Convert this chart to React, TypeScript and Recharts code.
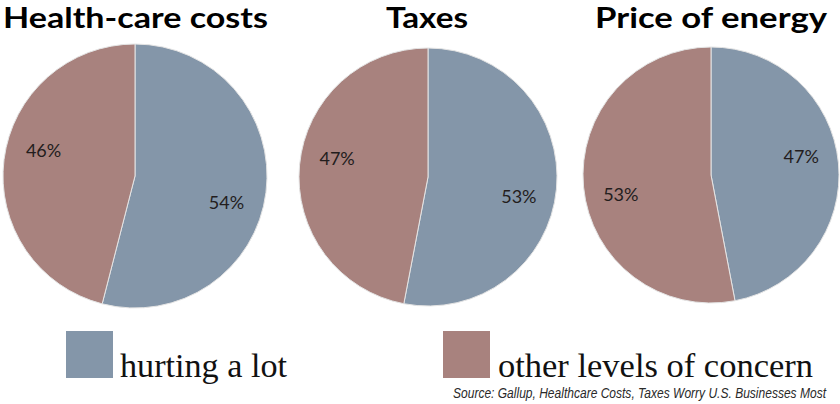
import { Pie, PieChart, Cell } from "recharts";

const categories = ["hurting a lot", "other levels of concern"];
const titles = ["Health-care costs", "Taxes", "Price of energy"];
const healthCare = [54, 46];
const taxes = [53, 47];
const energy = [47, 53];
const sourceNote = "Source: Gallup, Healthcare Costs, Taxes Worry U.S. Businesses Most";

const COLORS = ["#8496a9", "#a8827e"];
const RAD = Math.PI / 180;

const toRows = (vals: number[]) => vals.map((v, i) => ({ name: categories[i], value: v }));

// pie geometry per panel
const panels = [
  { title: titles[0], rows: toRows(healthCare), cx: 135, cy: 176, r: 132, tx: 3, tw: 265 },
  { title: titles[1], rows: toRows(taxes), cx: 428, cy: 177, r: 129, tx: 386, tw: 82 },
  { title: titles[2], rows: toRows(energy), cx: 711, cy: 175, r: 128, tx: 595, tw: 232 },
];

// excel-ish label placement: push labels further away from the horizontal axis
function pctLabel(p: any) {
  const r = p.outerRadius * 0.72;
  let a = p.midAngle;
  const side = Math.cos(a * RAD) >= 0 ? 0 : 180;
  let dev = a - side;
  while (dev > 180) dev -= 360;
  while (dev < -180) dev += 360;
  a = side + dev * 2.2;
  const x = p.cx + r * Math.cos(-a * RAD);
  const y = p.cy + r * Math.sin(-a * RAD);
  return (
    <text
      x={x}
      y={y}
      textAnchor="middle"
      dominantBaseline="central"
      fill="#231d1d"
      fontFamily="Lato, sans-serif"
      fontSize={18}
    >
      {`${p.value}%`}
    </text>
  );
}

const SRC_SCALE = 0.8;

export default function App() {
  return (
    <div style={{ position: "absolute", left: 0, top: 0, width: 840, height: 404, background: "#fff" }}>
      <PieChart width={840} height={404} margin={{ top: 0, right: 0, bottom: 0, left: 0 }}>
        {panels.map((p) => (
          <Pie
            key={p.title}
            data={p.rows}
            dataKey="value"
            nameKey="name"
            cx={p.cx}
            cy={p.cy}
            outerRadius={p.r}
            startAngle={90}
            endAngle={-270}
            stroke="#e4e4e4"
            strokeWidth={1}
            label={pctLabel}
            labelLine={false}
            isAnimationActive={false}
          >
            {p.rows.map((_, i) => (
              <Cell key={i} fill={COLORS[i]} />
            ))}
          </Pie>
        ))}
      </PieChart>
      <svg width={840} height={404} style={{ position: "absolute", left: 0, top: 0, pointerEvents: "none" }}>
        {panels.map((p) => (
          <text
            key={p.title}
            x={p.tx}
            y={28}
            textLength={p.tw}
            lengthAdjust="spacingAndGlyphs"
            fontFamily="Lato, sans-serif"
            fontWeight={700}
            fontSize={28}
            fill="#000"
          >
            {p.title}
          </text>
        ))}
        <rect x={66} y={331} width={47} height={47} fill={COLORS[0]} />
        <text x={120} y={377} textLength={167} lengthAdjust="spacingAndGlyphs" fontFamily="'Liberation Serif', serif" fontSize={33} fill="#111">
          {categories[0]}
        </text>
        <rect x={443} y={331} width={47} height={47} fill={COLORS[1]} />
        <text x={498} y={377} textLength={315} lengthAdjust="spacingAndGlyphs" fontFamily="'Liberation Serif', serif" fontSize={33} fill="#111">
          {categories[1]}
        </text>
        <g transform={`translate(453 398) scale(${SRC_SCALE} 1)`}>
          <text x={0} y={0} textLength={373 / SRC_SCALE} lengthAdjust="spacingAndGlyphs" fontFamily="'Liberation Sans', sans-serif" fontStyle="italic" fontSize={15} fill="#2a2a2a">
            {sourceNote}
          </text>
        </g>
      </svg>
    </div>
  );
}
